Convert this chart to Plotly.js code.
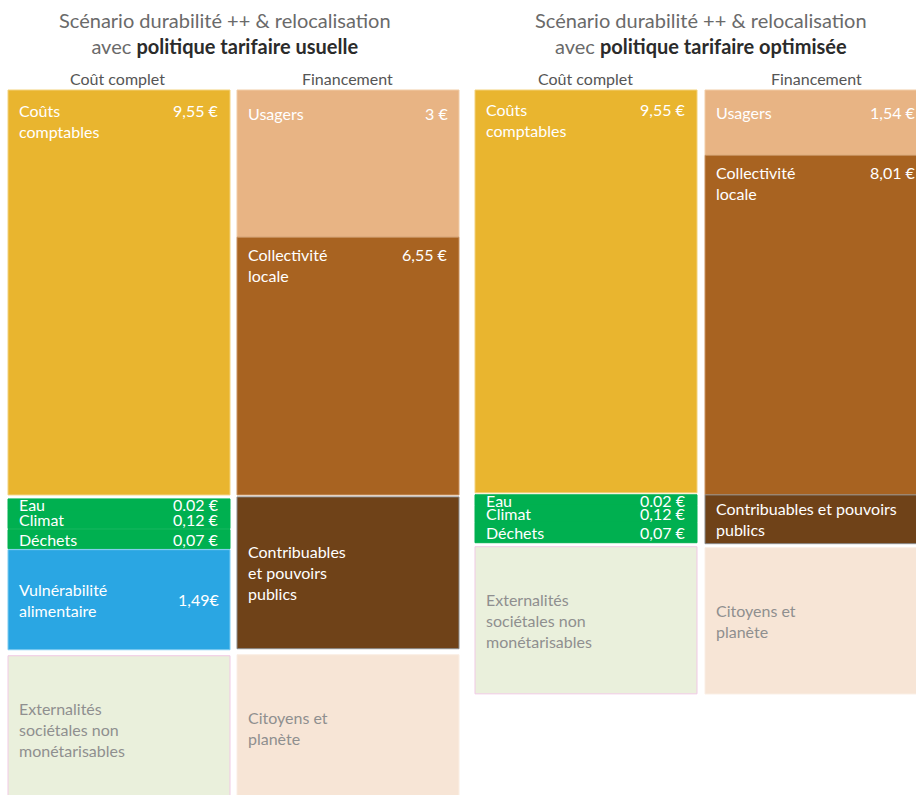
<!DOCTYPE html>
<html>
<head>
<meta charset="utf-8">
<script src="https://cdn.plot.ly/plotly-3.0.1.min.js"></script>
<style>html,body{margin:0;padding:0;background:#fff;}#chart{width:916px;height:795px;}</style>
</head>
<body>
<div id="chart"></div>
<script>
// ---------- DATA ----------
const scenarioTitles = ['Scénario durabilité ++ &amp; relocalisation', 'Scénario durabilité ++ &amp; relocalisation'];
const scenarioPolicies = ['politique tarifaire usuelle', 'politique tarifaire optimisée'];
const columnTitles = ['Coût complet', 'Financement', 'Coût complet', 'Financement'];

// Scenario 1 – cost
const cost1Labels = ['Coûts<br>comptables', 'Eau', 'Climat', 'Déchets', 'Vulnérabilité<br>alimentaire', 'Externalités<br>sociétales non<br>monétarisables'];
const cost1Values = ['9,55 €', '0.02 €', '0,12 €', '0,07 €', '1,49€', ''];
const cost1Sizes  = [9.55, 0.25, 0.45, 0.45, 2.36, 3.47];   // drawn block sizes (schematic)

// Scenario 1 – financing
const fin1Labels = ['Usagers', 'Collectivité<br>locale', 'Contribuables<br>et pouvoirs<br>publics', 'Citoyens et<br>planète'];
const fin1Values = ['3 €', '6,55 €', '', ''];
const fin1Sizes  = [3.47, 6.08, 3.58, 3.47];

// Scenario 2 – cost
const cost2Labels = ['Coûts<br>comptables', 'Eau', 'Climat', 'Déchets', 'Externalités<br>sociétales non<br>monétarisables'];
const cost2Values = ['9,55 €', '0.02 €', '0,12 €', '0,07 €', ''];
const cost2Sizes  = [9.5, 0.25, 0.4, 0.48, 3.47];

// Scenario 2 – financing
const fin2Labels = ['Usagers', 'Collectivité<br>locale', 'Contribuables et pouvoirs<br>publics', 'Citoyens et<br>planète'];
const fin2Values = ['1,54 €', '8,01 €', '', ''];
const fin2Sizes  = [1.54, 8.01, 1.15, 3.45];

// ---------- STYLE / LAYOUT ----------
const K = 42.4;      // px per unit
const Y0 = 90;       // px of top of blocks
const W = 916, H = 795;
const FONT = 'Lato, "Source Sans Pro", "Open Sans", sans-serif';

const C = {
  yellow: '#E9B52F', green: '#00B050', blue: '#2AA6E3', ext: '#EAF0DC',
  usagers: '#E8B484', collect: '#A86321', contrib: '#6F4218', citoy: '#F7E5D6'
};

const columns = [
  { x0: 8,   labels: cost1Labels, values: cost1Values, sizes: cost1Sizes,
    colors: [C.yellow, C.green, C.green, C.green, C.blue, C.ext],
    lines: ['#F3D27C', C.green, C.green, C.green, '#7CCBF1', '#F0C9E4'],
    gaps: [0, 4, 0, 1, 1, 6],
    pos: ['top', 'mid', 'mid', 'mid', 'mid', 'mid'],
    tpad: [9, 0, 0, 0, 0, 0],
    txt: ['#fff', '#fff', '#fff', '#fff', '#fff', '#8f8f8f'] },
  { x0: 237, labels: fin1Labels, values: fin1Values, sizes: fin1Sizes,
    colors: [C.usagers, C.collect, C.contrib, C.citoy],
    lines: ['#F1CCA6', '#C9915E', '#8C8C8C', '#FAEEE4'],
    gaps: [0, 0, 2, 6],
    pos: ['top', 'top', 'mid', 'mid'],
    tpad: [12, 6, 0, 0],
    txt: ['#fff', '#fff', '#fff', '#8f8f8f'] },
  { x0: 475, labels: cost2Labels, values: cost2Values, sizes: cost2Sizes,
    colors: [C.yellow, C.green, C.green, C.green, C.ext],
    lines: ['#F3D27C', C.green, C.green, C.green, '#F0C9E4'],
    gaps: [0, 2, 0, 0, 4],
    pos: ['top', 'mid', 'mid', 'mid', 'mid'],
    tpad: [8, 0, 0, 0, 0],
    txt: ['#fff', '#fff', '#fff', '#fff', '#8f8f8f'] },
  { x0: 705, labels: fin2Labels, values: fin2Values, sizes: fin2Sizes,
    colors: [C.usagers, C.collect, C.contrib, C.citoy],
    lines: ['#F1CCA6', '#C9915E', '#8C8C8C', '#FAEEE4'],
    gaps: [0, 0, 0, 4],
    pos: ['top', 'top', 'mid', 'mid'],
    tpad: [11, 6, 0, 0],
    txt: ['#fff', '#fff', '#fff', '#8f8f8f'] }
];
const COLW = 222;
const PAD = 11;

const traces = [];
const annotations = [];
const px = v => v / W;

columns.forEach(col => {
  const bases = [];
  let cur = 0;
  col.sizes.forEach((s, i) => {
    cur += col.gaps[i] / K;
    bases.push(cur);
    cur += s;
  });
  const xc = col.x0 + COLW / 2;
  traces.push({
    type: 'bar',
    x: col.sizes.map(() => xc),
    y: col.sizes,
    base: bases,
    width: col.sizes.map(() => COLW),
    marker: { color: col.colors, line: { color: col.lines, width: 1 } },
    hoverinfo: 'skip',
    showlegend: false
  });
  col.labels.forEach((lab, i) => {
    const top = bases[i], mid = bases[i] + col.sizes[i] / 2;
    const isTop = col.pos[i] === 'top';
    const y = isTop ? top + col.tpad[i] / K : mid;
    const ya = isTop ? 'top' : 'middle';
    annotations.push({
      xref: 'paper', yref: 'y', x: px(col.x0 + PAD - 2), y: y, xanchor: 'left', yanchor: ya,
      text: lab, showarrow: false, align: 'left',
      font: { family: FONT, size: 16, color: col.txt[i] }
    });
    if (col.values[i]) {
      annotations.push({
        xref: 'paper', yref: 'y', x: px(col.x0 + COLW - PAD + 2), y: y, xanchor: 'right', yanchor: ya,
        text: col.values[i], showarrow: false, align: 'right',
        font: { family: FONT, size: 16, color: col.txt[i] }
      });
    }
  });
});

const py = p => 1 - p / H;
const titleCenters = [225, 701];
titleCenters.forEach((xc, k) => {
  annotations.push({
    xref: 'paper', yref: 'paper', x: px(xc), y: py(33), xanchor: 'center', yanchor: 'middle',
    text: scenarioTitles[k] + '<br>avec <b><span style="color:#2b2b2b">' + scenarioPolicies[k] + '</span></b>',
    showarrow: false, align: 'center',
    font: { family: FONT, size: 20, color: '#6a6a6a' }
  });
});
const colTitleCenters = [117, 347, 585, 816];
colTitleCenters.forEach((xc, k) => {
  annotations.push({
    xref: 'paper', yref: 'paper', x: px(xc), y: py(79), xanchor: 'center', yanchor: 'middle',
    text: columnTitles[k], showarrow: false,
    font: { family: FONT, size: 16, color: '#555' }
  });
});

const layout = {
  width: W, height: H,
  margin: { l: 0, r: 0, t: 0, b: 0, pad: 0 },
  paper_bgcolor: '#fff', plot_bgcolor: '#fff',
  barmode: 'overlay',
  xaxis: { range: [0, W], visible: false, fixedrange: true },
  yaxis: { range: [(H - Y0) / K, -Y0 / K], visible: false, fixedrange: true },
  annotations: annotations,
  showlegend: false
};

Plotly.newPlot('chart', traces, layout, { displayModeBar: false, staticPlot: true });
</script>
</body>
</html>
